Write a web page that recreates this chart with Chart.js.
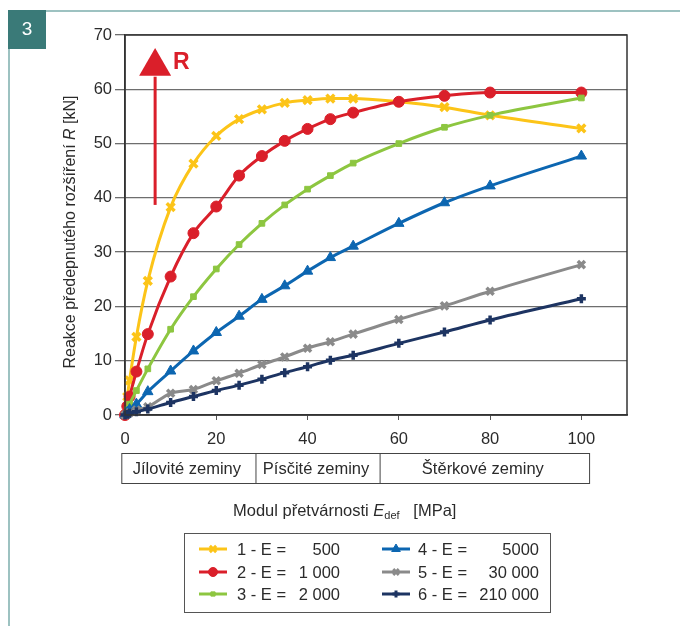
<!DOCTYPE html>
<html>
<head>
<meta charset="utf-8">
<script src="https://cdn.jsdelivr.net/npm/chart.js@4.4.1/dist/chart.umd.min.js"></script>
<style>
  html, body { margin: 0; padding: 0; background: #fff; }
  #wrap { position: relative; width: 680px; height: 626px; }
</style>
</head>
<body>
<div id="wrap"><canvas id="chart" width="680" height="626"></canvas></div>
<script>
// Modul přetvárnosti Edef [MPa]
const edef = [0, 0.5, 1, 2.5, 5, 10, 15, 20, 25, 30, 35, 40, 45, 50, 60, 70, 80, 100];

// Reakce předepnutého rozšíření R [kN]
const r500 =    [0, 3.4, 6.4, 14.4, 24.7, 38.3, 46.3, 51.4, 54.5, 56.3, 57.5, 58.0, 58.3, 58.3, 57.7, 56.7, 55.2, 52.8];
const r1000 =   [0, 1.6, 3.4, 8.0, 14.9, 25.5, 33.5, 38.4, 44.1, 47.7, 50.5, 52.7, 54.5, 55.7, 57.7, 58.8, 59.4, 59.4];
const r2000 =   [0, 1.0, 2.0, 4.5, 8.5, 15.8, 21.8, 26.9, 31.4, 35.3, 38.7, 41.6, 44.1, 46.4, 50.0, 53.0, 55.2, 58.4];
const r5000 =   [0, 0.5, 1.0, 2.0, 4.3, 8.1, 11.8, 15.2, 18.2, 21.3, 23.8, 26.5, 29.0, 31.1, 35.3, 39.1, 42.2, 47.7];
const r30000 =  [0, 0.2, 0.4, 0.9, 1.5, 4.0, 4.7, 6.3, 7.7, 9.3, 10.7, 12.3, 13.5, 14.9, 17.6, 20.1, 22.8, 27.7];
const r210000 = [0, 0.15, 0.3, 0.6, 1.1, 2.3, 3.4, 4.5, 5.5, 6.6, 7.8, 8.9, 10.1, 11.0, 13.2, 15.3, 17.5, 21.4];

const seriesNames = ['1 - E =', '2 - E =', '3 - E =', '4 - E =', '5 - E =', '6 - E ='];
const seriesE = ['500', '1 000', '2 000', '5000', '30 000', '210 000'];
const soilTypes = ['Jílovité zeminy', 'Písčité zeminy', 'Štěrkové zeminy'];
const xTicks = [0, 20, 40, 60, 80, 100];

const colors = ['#fcc418', '#da1f2a', '#8dc640', '#0c66b1', '#8a8a8a', '#1d3462'];
const styles = ['crossRot', 'circle', 'rect', 'triangle', 'crossRot', 'cross'];
const radii = [5.5, 5.5, 4, 6, 5, 4.5];
const allValues = [r500, r1000, r2000, r5000, r30000, r210000];

const FONT = '"Liberation Sans", Arial, Helvetica, sans-serif';
const TXT = '#2b2b2b';

const datasets = allValues.map((vals, i) => ({
    label: seriesNames[i] + ' ' + seriesE[i],
    data: edef.map((x, j) => ({ x: x, y: vals[j] })),
    borderColor: colors[i],
    backgroundColor: colors[i],
    borderWidth: 3,
    pointStyle: styles[i],
    pointRadius: radii[i],
    pointBorderWidth: styles[i].startsWith('cross') ? 3.5 : 1,
    pointBackgroundColor: colors[i],
    pointBorderColor: colors[i],
    cubicInterpolationMode: 'monotone',
    clip: false,
    order: 6 - i
}));

// popisky, rámečky a šipka kreslené přímo na plátno
const extras = {
    id: 'extras',
    afterDraw(chart) {
        const ctx = chart.ctx;
        const xs = chart.scales.x;
        const ys = chart.scales.y;
        const a = chart.chartArea;
        ctx.save();

        // rám grafu
        ctx.strokeStyle = '#333';
        ctx.lineWidth = 1.5;
        ctx.strokeRect(a.left, a.top, a.right - a.left, a.bottom - a.top);

        // okraj stránky a číslo obrázku
        ctx.fillStyle = '#9dc2c1';
        ctx.fillRect(46, 10, 634, 2);
        ctx.fillRect(8, 48, 2, 578);
        ctx.fillStyle = '#3a7a78';
        ctx.fillRect(8, 10, 38, 39);
        ctx.fillStyle = '#fff';
        ctx.font = '19px ' + FONT;
        ctx.textAlign = 'center';
        ctx.textBaseline = 'middle';
        ctx.fillText('3', 27, 30);

        // šipka R
        const ax = xs.getPixelForValue(6.6);
        const yBot = ys.getPixelForValue(38.7);
        const yBase = ys.getPixelForValue(62.5);
        const yTip = ys.getPixelForValue(67.6);
        ctx.strokeStyle = '#da1f2a';
        ctx.fillStyle = '#da1f2a';
        ctx.lineWidth = 3;
        ctx.beginPath();
        ctx.moveTo(ax, yBot);
        ctx.lineTo(ax, yBase + 1);
        ctx.stroke();
        ctx.beginPath();
        ctx.moveTo(ax, yTip);
        ctx.lineTo(ax - 16, yBase);
        ctx.lineTo(ax + 16, yBase);
        ctx.closePath();
        ctx.fill();
        ctx.font = 'bold 23px ' + FONT;
        ctx.textAlign = 'left';
        ctx.textBaseline = 'alphabetic';
        ctx.fillText('R', ax + 18, ys.getPixelForValue(63.8));

        // osa y - popisek
        ctx.fillStyle = TXT;
        ctx.translate(75, 232);
        ctx.rotate(-Math.PI / 2);
        const p1 = 'Reakce předepnutého rozšíření ';
        const p2 = 'R';
        const p3 = ' [kN]';
        ctx.font = '16px ' + FONT;
        const w1 = ctx.measureText(p1).width;
        const w3 = ctx.measureText(p3).width;
        ctx.font = 'italic 16px ' + FONT;
        const w2 = ctx.measureText(p2).width;
        const sx = -(w1 + w2 + w3) / 2;
        ctx.font = '16px ' + FONT;
        ctx.fillText(p1, sx, 0);
        ctx.font = 'italic 16px ' + FONT;
        ctx.fillText(p2, sx + w1, 0);
        ctx.font = '16px ' + FONT;
        ctx.fillText(p3, sx + w1 + w2, 0);
        ctx.setTransform(1, 0, 0, 1, 0, 0);

        // pás zemin
        const bx = [xs.getPixelForValue(-0.7), xs.getPixelForValue(28.7), xs.getPixelForValue(55.9), xs.getPixelForValue(101.8)];
        const bTop = 453.5, bBot = 483.5;
        ctx.strokeStyle = '#444';
        ctx.lineWidth = 1;
        ctx.strokeRect(bx[0], bTop, bx[3] - bx[0], bBot - bTop);
        ctx.beginPath();
        ctx.moveTo(bx[1], bTop); ctx.lineTo(bx[1], bBot);
        ctx.moveTo(bx[2], bTop); ctx.lineTo(bx[2], bBot);
        ctx.stroke();
        ctx.fillStyle = TXT;
        ctx.font = '16.5px ' + FONT;
        ctx.textAlign = 'center';
        ctx.textBaseline = 'middle';
        soilTypes.forEach((t, i) => {
            ctx.fillText(t, (bx[i] + bx[i + 1]) / 2 - 2, (bTop + bBot) / 2 + 1);
        });

        // osa x - popisek
        ctx.textAlign = 'left';
        ctx.textBaseline = 'alphabetic';
        const t1 = 'Modul přetvárnosti ';
        ctx.font = '16.5px ' + FONT;
        const tw1 = ctx.measureText(t1).width;
        ctx.font = 'italic 16.5px ' + FONT;
        const tw2 = ctx.measureText('E').width;
        ctx.font = '11px ' + FONT;
        const tw3 = ctx.measureText('def').width;
        ctx.font = '16.5px ' + FONT;
        const tw4 = ctx.measureText('   [MPa]').width;
        const tx = 233;
        const ty = 516;
        ctx.fillText(t1, tx, ty);
        ctx.font = 'italic 16.5px ' + FONT;
        ctx.fillText('E', tx + tw1, ty);
        ctx.font = '11px ' + FONT;
        ctx.fillText('def', tx + tw1 + tw2, ty + 3);
        ctx.font = '16.5px ' + FONT;
        ctx.fillText('   [MPa]', tx + tw1 + tw2 + tw3, ty);

        // legenda
        ctx.strokeStyle = '#555';
        ctx.lineWidth = 1;
        ctx.strokeRect(184.5, 533.5, 366, 79);
        const rowsY = [549, 572, 594];
        const cols = [{ l: 199, t: 237, v: 340 }, { l: 382, t: 418, v: 539 }];
        for (let i = 0; i < 6; i++) {
            const c = cols[Math.floor(i / 3)];
            const y = rowsY[i % 3];
            ctx.strokeStyle = colors[i];
            ctx.fillStyle = colors[i];
            ctx.lineWidth = 3;
            ctx.beginPath();
            ctx.moveTo(c.l, y);
            ctx.lineTo(c.l + 28, y);
            ctx.stroke();
            ctx.lineWidth = styles[i].startsWith('cross') ? 3 : 1;
            Chart.helpers.drawPoint(ctx, { pointStyle: styles[i], radius: radii[i] - 1, rotation: 0, borderWidth: ctx.lineWidth }, c.l + 14, y);
            ctx.fillStyle = TXT;
            ctx.font = '16.5px ' + FONT;
            ctx.textBaseline = 'middle';
            ctx.textAlign = 'left';
            ctx.fillText(seriesNames[i], c.t, y + 1);
            ctx.textAlign = 'right';
            ctx.fillText(seriesE[i], c.v, y + 1);
        }
        ctx.restore();
    }
};

const chartContainer = document.getElementById('chart').getContext('2d');

new Chart(chartContainer, {
    type: 'line',
    data: { datasets: datasets },
    options: {
        responsive: false,
        animation: false,
        events: [],
        layout: { padding: { left: 0, top: 35, right: 53, bottom: 181 } },
        plugins: { legend: { display: false }, tooltip: { enabled: false } },
        scales: {
            x: {
                type: 'linear',
                min: 0,
                max: 110,
                afterBuildTicks: (s) => { s.ticks = xTicks.map(v => ({ value: v })); },
                afterFit: (s) => { s.height = 30; },
                grid: { drawOnChartArea: false, tickLength: 5, color: '#555', lineWidth: 1 },
                border: { color: '#333', width: 1.5 },
                ticks: { color: TXT, font: { family: FONT, size: 16.5 }, padding: 10, maxRotation: 0 }
            },
            y: {
                min: 0,
                max: 70,
                afterFit: (s) => { s.width = 125; },
                grid: { color: '#6e6e6e', lineWidth: 1.3, tickLength: 10 },
                border: { color: '#333', width: 1.5 },
                ticks: { stepSize: 10, color: TXT, font: { family: FONT, size: 16.5 }, padding: 3 }
            }
        }
    },
    plugins: [extras]
});
</script>
</body>
</html>
